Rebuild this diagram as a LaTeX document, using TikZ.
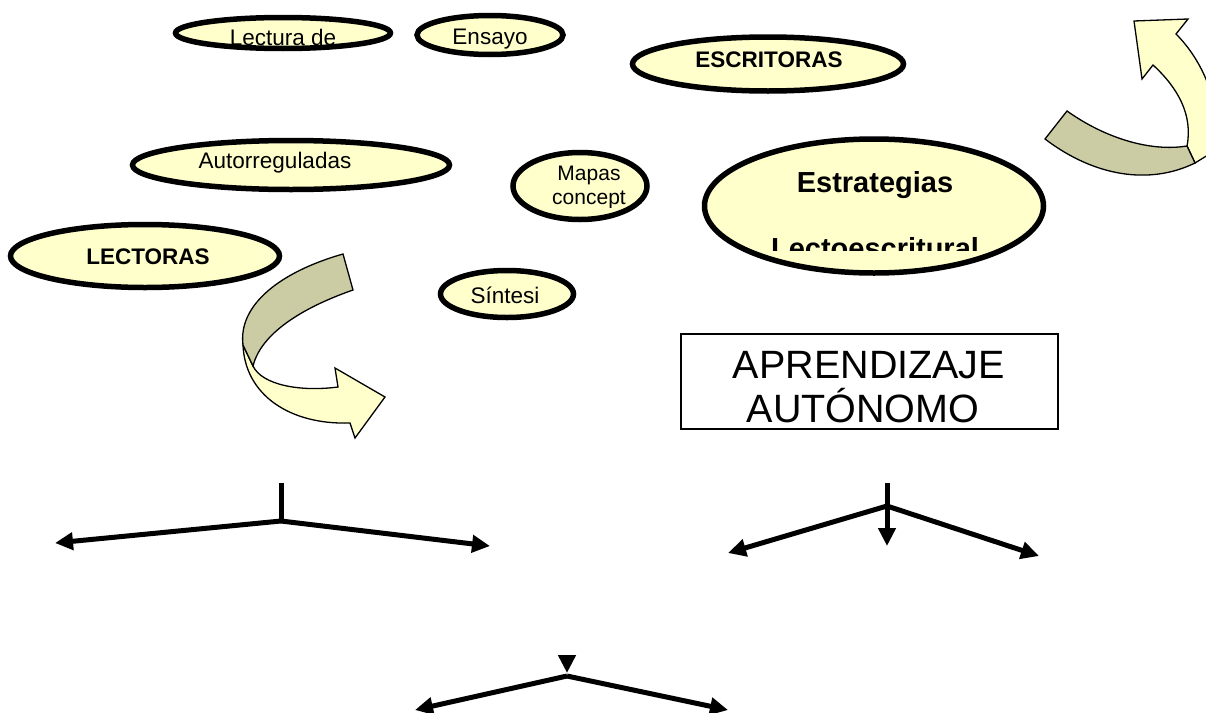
\documentclass[tikz,border=0pt]{standalone}
\usepackage{fontspec}
\setmainfont{Liberation Sans}
\usetikzlibrary{shapes.geometric,arrows.meta}
\definecolor{pale}{RGB}{255,255,204}
\definecolor{khaki}{RGB}{204,204,164}
\begin{document}
\begin{tikzpicture}[x=1pt,y=-1pt,
  oval/.style={ellipse,draw,line width=5.5pt,fill=pale,inner sep=0pt},
  lbl/.style={anchor=base,inner sep=0pt,font=\fontsize{22.5}{26}\selectfont},
  blbl/.style={anchor=base,inner sep=0pt,font=\fontsize{22.5}{26}\selectfont\bfseries},
  band/.style={draw,line width=1.3pt,line join=miter},
  tree/.style={line width=5pt,-{Triangle[length=18pt,width=17pt]}},
  stem/.style={line width=5pt}]
\useasboundingbox (0,0) rectangle (1206,712);

% curved arrow, top right
\path[band,fill=pale] (1187,146) .. controls (1193,115) and (1178,88) .. (1153,65)
  -- (1142,79) -- (1134,21) -- (1188,19) -- (1176,34)
  .. controls (1200,58) and (1222,100) .. (1216,150) -- (1195,163) -- cycle;
\path[band,fill=khaki] (1045,139) -- (1067,111) .. controls (1105,138) and (1150,152) .. (1187,146)
  -- (1195,163) .. controls (1150,185) and (1095,177) .. (1045,139) -- cycle;

% ellipses
\node[oval,minimum width=215pt,minimum height=31pt] (elec) at (283,33) {};
\node[lbl] (tlec) at (283,45) {Lectura de};
\node[oval,minimum width=146pt,minimum height=39pt] (eens) at (490,35) {};
\node[lbl] (tens) at (490,44) {Ensayo};
\node[oval,minimum width=271pt,minimum height=54pt] (eesc) at (768,64) {};
\node[blbl] (tesc) at (769,67) {ESCRITORAS};
\node[oval,minimum width=317pt,minimum height=49pt] (eaut) at (291,165) {};
\node[lbl] (taut) at (275,168) {Autorreguladas};
\node[oval,minimum width=134pt,minimum height=67pt] (emap) at (580,186) {};
\node[lbl,font=\fontsize{21}{25}\selectfont] (tmap) at (589,180) {Mapas};
\begin{scope}
  \clip (520,185) rectangle (650,207);
  \node[lbl,font=\fontsize{21}{25}\selectfont] (tcon) at (589,204) {concept};
\end{scope}
\node[oval,minimum width=339pt,minimum height=134pt] (eest) at (874,206) {};
\node[anchor=base,inner sep=0pt,font=\fontsize{29}{34}\selectfont\bfseries] (test) at (875,192) {Estrategias};
\begin{scope}
  \clip (700,200) rectangle (1050,250);
  \node[anchor=base,inner sep=0pt,font=\fontsize{29}{34}\selectfont\bfseries] (tlecto) at (875,258) {Lectoescritural};
\end{scope}
\node[oval,minimum width=269pt,minimum height=63pt] (elct) at (145,256) {};
\node[blbl] (tlct) at (148,264) {LECTORAS};
\node[oval,minimum width=133pt,minimum height=47pt] (esin) at (507,294) {};
\node[lbl] (tsin) at (505,303) {Síntesi};

% curved arrow, left
\path[band,fill=pale] (243,345) .. controls (245,395) and (290,425) .. (350,423)
  -- (355,438) -- (385,397) -- (335,368) -- (338,387)
  .. controls (300,392) and (262,385) .. (253,366) -- cycle;
\path[band,fill=khaki] (343,254) -- (353,290) .. controls (310,305) and (262,330) .. (253,366)
  -- (243,345) .. controls (238,305) and (280,272) .. (343,254) -- cycle;

% box
\node[draw,line width=2pt,minimum width=377pt,minimum height=95pt,inner sep=0pt] (box) at (869,381) {};
\node[anchor=base,inner sep=0pt,font=\fontsize{39.5}{44}\selectfont] (tapr) at (869,378) {APRENDIZAJE};
\node[anchor=base,inner sep=0pt,font=\fontsize{39.5}{44}\selectfont] (tauto) at (863,422) {AUTÓNOMO};

% left tree
\coordinate (l0) at (281,483);
\coordinate (lj) at (281,521);
\coordinate (lL) at (55,543);
\coordinate (lR) at (490,546);
\draw[stem] (l0) -- (lj);
\draw[tree] (lj) -- (lL);
\draw[tree] (lj) -- (lR);

% right tree
\coordinate (r0) at (887,483);
\coordinate (rj) at (887,506);
\coordinate (rD) at (887,546);
\coordinate (rL) at (728,553);
\coordinate (rR) at (1039,556);
\draw[tree] (r0) -- (rD);
\draw[tree] (rj) -- (rL);
\draw[tree] (rj) -- (rR);

% bottom tree
\coordinate (b0) at (567,656);
\coordinate (bD) at (567,673);
\coordinate (bj) at (567,676);
\coordinate (bL) at (415,710);
\coordinate (bR) at (728,710);
\draw[tree] (b0) -- (bD);
\draw[tree] (bj) -- (bL);
\draw[tree] (bj) -- (bR);
\end{tikzpicture}
\end{document}
